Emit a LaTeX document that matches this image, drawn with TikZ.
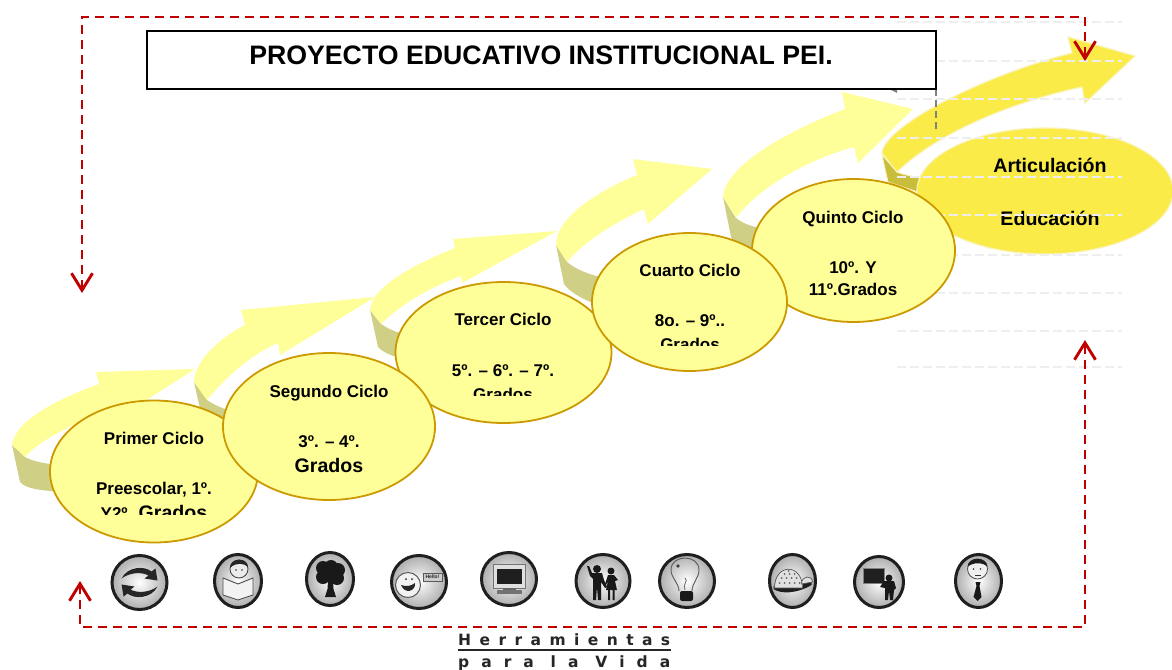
\documentclass[tikz,border=0pt]{standalone}
\usepackage{fontspec}
\setmainfont{Liberation Sans}
\newfontfamily\logofont{DejaVu Sans}
\usetikzlibrary{shapes.geometric,arrows.meta}
\definecolor{ribbon}{HTML}{FFFF99}
\definecolor{foldc}{HTML}{CFCF85}
\definecolor{ringc}{HTML}{CC9900}
\definecolor{goldc}{HTML}{FAEB48}
\definecolor{goldedge}{HTML}{FBF3B5}
\definecolor{goldfold}{HTML}{C9BE3C}
\definecolor{redc}{HTML}{C00000}
\definecolor{guide}{HTML}{EEEEEE}
\tikzset{
  x=1pt,y=-1pt,
  cycleell/.style={ellipse,draw=ringc,fill=ribbon,line width=1.8pt,inner sep=0pt,outer sep=0pt},
  lab/.style={anchor=base,inner sep=0pt,font=\bfseries\fontsize{17}{20}\selectfont},
  bigl/.style={anchor=base,inner sep=0pt,font=\bfseries\fontsize{19.6}{22}\selectfont},
  reddash/.style={draw=redc,line width=2.3pt,dash pattern=on 9pt off 6pt,
    {Straight Barb[length=17pt,width=21pt,line width=2.9pt]}-{Straight Barb[length=17pt,width=21pt,line width=2.9pt]}},
  rim/.style={draw=black!88,line width=3pt,inner color=white,outer color=black!32},
  logol/.style={anchor=base west,inner sep=0pt,font=\logofont\bfseries\fontsize{15.5}{16}\selectfont,text=black!85}
}
\newcommand{\iconbase}[2]{\shade[rim] (0,0) ellipse[x radius=#1,y radius=#2];}
\newcommand{\wordgap}{\hskip0pt plus 1.4fill\relax}
\begin{document}
\begin{tikzpicture}
\useasboundingbox (0,0) rectangle (1172,669);
\clip (0,0) rectangle (1172,669);
\fill[white] (0,0) rectangle (1172,669);

% ---- ribbons
% 1
\fill[foldc] (12,445) -- (20,482) .. controls (26,489) and (40,490) .. (60,492) -- (60,465) .. controls (45,464) and (32,461) .. (25,457) -- cycle;
\fill[ribbon] (12,445) .. controls (15,420) and (60,398) .. (99,384) -- (96,372) -- (195,369) -- (115,420) -- (112,408) .. controls (85,420) and (45,435) .. (25,457) -- cycle;
% 2
\fill[foldc] (194,382) -- (203,422) .. controls (208,432) and (215,438) .. (232,446) -- (232,412) .. controls (222,408) and (214,405) .. (207,400) -- cycle;
\fill[ribbon] (194,382) .. controls (195,358) and (225,335) .. (245,325) -- (241,310) -- (375,297) -- (280,355) -- (278,343) .. controls (250,355) and (225,378) .. (207,400) -- cycle;
% 3
\fill[foldc] (370,310) -- (378,347) .. controls (384,353) and (390,355) .. (400,358) -- (400,333) .. controls (393,331) and (387,328) .. (381,324) -- cycle;
\fill[ribbon] (370,310) .. controls (372,285) and (420,262) .. (455,248) -- (453,239) -- (557,231) -- (462,283) -- (461,276) .. controls (430,287) and (400,305) .. (381,324) -- cycle;
% 4
\fill[foldc] (556,245) -- (564,284) .. controls (570,292) and (580,298) .. (600,306) -- (600,277) .. controls (588,274) and (575,269) .. (567,262) -- cycle;
\fill[ribbon] (556,245) .. controls (556,215) and (605,188) .. (637,175) -- (633,159) -- (712,169) -- (648,224) -- (644,209) .. controls (620,220) and (585,240) .. (567,262) -- cycle;
% 5
\fill[foldc] (723,197) -- (731,237) .. controls (735,245) and (745,250) .. (760,252) -- (760,228) .. controls (750,226) and (742,223) .. (736,218) -- cycle;
\fill[ribbon] (723,197) .. controls (725,165) and (790,130) .. (845,109) -- (842,92) -- (913,109) -- (858,163) -- (854,147) .. controls (815,157) and (760,185) .. (736,218) -- cycle;
% 6
\fill[goldfold,draw=goldedge,line width=.8pt] (882,155) -- (888,182) -- (918,192) -- (920,178) .. controls (912,176) and (903,175) .. (897,172) -- cycle;
\fill[goldc,draw=goldedge,line width=1.2pt] (882,153) .. controls (885,125) and (985,75) .. (1072,53) -- (1068,37) -- (1135,56) -- (1085,103) -- (1082,87) .. controls (1020,100) and (940,130) .. (897,172) -- cycle;

% ---- right ellipse and labels
\node[ellipse,fill=goldc,draw=goldedge,line width=1.2pt,minimum width=256pt,minimum height=126pt,inner sep=0pt,outer sep=0pt] (edu) at (1045,191) {};
\node[bigl] (art) at (1050,172) {Articulación};
\node[bigl] (educ) at (1050,225) {Educación};

% ---- pale guide lines
\foreach \yy in {22,61,99,138,177,215,255,293,331,367}
  \draw[guide,line width=1.8pt,dash pattern=on 9pt off 4pt] (897,\yy) -- (1122,\yy);

% ---- title box with grey trace
\coordinate (gt) at (936,89);
\coordinate (gb) at (936,130);
\draw[black!50,line width=1.8pt,dash pattern=on 7pt off 4pt] (gt) -- (gb);
\fill[black!50] (889,89) -- (897,89) -- (897,93) -- cycle;
\node[draw=black,fill=white,line width=1.6pt,minimum width=789pt,minimum height=58pt,inner sep=0pt,outer sep=0pt] (title) at (541.5,60) {};
\node[anchor=base,inner sep=0pt,font=\bfseries\fontsize{26.7}{30}\selectfont] (titlet) at (541,64) {PROYECTO EDUCATIVO INSTITUCIONAL PEI.};

% ---- cycle ellipses
\node[cycleell,minimum width=208pt,minimum height=142pt] (c1) at (154,471.5) {};
\node[cycleell,minimum width=216pt,minimum height=141pt] (c3) at (503.5,352.5) {};
\node[cycleell,minimum width=212pt,minimum height=147pt] (c2) at (329,426.5) {};
\node[cycleell,minimum width=203pt,minimum height=143pt] (c5) at (853.5,250.5) {};
\node[cycleell,minimum width=195pt,minimum height=138pt] (c4) at (689.5,302) {};

\node[lab] (t1a) at (154,444) {Primer Ciclo};
\node[lab] (t1b) at (154,494) {Preescolar, 1º.};
\begin{scope}
  \clip (60,490) rectangle (250,514.5);
  \node[lab] (t1c) at (154,519) {Y2º. {\fontsize{19.6}{22}\selectfont Grados}};
\end{scope}
\node[lab] (t2a) at (329,397) {Segundo Ciclo};
\node[lab] (t2b) at (329,447) {3º. – 4º.};
\node[bigl] (t2c) at (329,472) {Grados};
\node[lab] (t3a) at (503,325) {Tercer Ciclo};
\node[lab] (t3b) at (503,376) {5º. – 6º. – 7º.};
\begin{scope}
  \clip (400,380) rectangle (600,395.5);
  \node[lab] (t3c) at (503,400.5) {Grados};
\end{scope}
\node[lab] (t4a) at (690,276) {Cuarto Ciclo};
\node[lab] (t4b) at (690,326) {8o. – 9º..};
\begin{scope}
  \clip (600,330) rectangle (780,345);
  \node[lab] (t4c) at (690,350) {Grados};
\end{scope}
\node[lab] (t5a) at (853,223) {Quinto Ciclo};
\node[lab] (t5b) at (853,273) {10º. Y};
\node[lab] (t5c) at (853,295) {11º.Grados};

% ---- red dashed frame
\coordinate (ra) at (82,293);
\coordinate (rb) at (82,17);
\coordinate (rc) at (1085,17);
\coordinate (rd) at (1085,61);
\coordinate (re) at (80,581);
\coordinate (rf) at (80,627);
\coordinate (rg) at (1085,627);
\coordinate (rh) at (1085,340);
\draw[reddash] (ra) -- (rb) -- (rc) -- (rd);
\draw[reddash] (re) -- (rf) -- (rg) -- (rh);

% ---- icons
% 1 cycle
\begin{scope}[shift={(139.5,582.5)}]
  \iconbase{27.5}{27}
  \foreach \rr in {0,180}
    \fill[black!85,rotate=\rr] (-18,-4) .. controls (-12,-16) and (5,-17) .. (12,-11) -- (16,-14) -- (18,-2) -- (5,-4) -- (9,-7) .. controls (2,-11) and (-10,-10) .. (-18,-4) -- cycle;
\end{scope}
% 2 reader
\begin{scope}[shift={(238,581)}]
  \iconbase{23.5}{26.5}
  \fill[black!8,draw=black!75,line width=.8pt] (1,-12) circle[radius=9];
  \fill[black!85] (-8,-13) .. controls (-8,-24) and (10,-24) .. (10,-14) .. controls (6,-18) and (-2,-19) .. (-8,-13);
  \fill[black!80] (-2,-11) circle[radius=.9] (4,-11) circle[radius=.9];
  \fill[black!5,draw=black!70,line width=.9pt] (-15,-3) -- (0,3) -- (15,-3) -- (15,14) -- (0,19) -- (-15,14) -- cycle;
\end{scope}
% 3 tree
\begin{scope}[shift={(330,579)}]
  \iconbase{23.5}{26.5}
  \fill[black!90] (-7,-11) circle[radius=7] (1,-12) circle[radius=7] (8,-9) circle[radius=7]
     (-7,-2) circle[radius=7] (7,-1) circle[radius=7] (0,-5) circle[radius=8];
  \fill[black!90] (-2,2) -- (3,2) -- (3.5,10) -- (6,18) -- (-5,18) -- (-2.5,10) -- cycle;
\end{scope}
% 4 hello
\begin{scope}[shift={(419,582)}]
  \iconbase{27.5}{26.5}
  \fill[black!5,draw=black!65,line width=1pt] (-11,3) circle[radius=12.5];
  \fill[black!85] (-13,-3) circle[radius=1] (-7,-3) circle[radius=1];
  \fill[black!85] (-18,3) .. controls (-12,5) and (-8,4) .. (-4,1) .. controls (-3,9) and (-14,13) .. (-18,3);
  \fill[black!20,draw=black!65,line width=.7pt] (4,-9) rectangle (23,-1);
  \node[inner sep=0pt,font=\bfseries\fontsize{5}{5}\selectfont,text=black!85] (hello) at (13.5,-5) {Hello!};
\end{scope}
% 5 monitor
\begin{scope}[shift={(509,579)}]
  \iconbase{27.5}{26.5}
  \fill[black!12,draw=black!55,line width=.8pt] (-16,-15) rectangle (16,9);
  \fill[black!88] (-12,-10) rectangle (13,5);
  \fill[black!60] (-6,9) rectangle (7,11);
  \fill[black!55] (-12,11) rectangle (13,15);
\end{scope}
% 6 couple
\begin{scope}[shift={(603,581)}]
  \iconbase{27}{26.5}
  \fill[black!90] (-6,-12) circle[radius=4];
  \fill[black!90] (-16,-15) -- (-14,-15) -- (-11,-8) -- (-1,-8) -- (1,-1) -- (4,6) -- (2,7) -- (-2,1) -- (-2,19) -- (-5,19) -- (-6,6) -- (-7,19) -- (-10,19) -- (-10,-2) -- (-13,-5) -- cycle;
  \fill[black!90] (8,-10) circle[radius=3.5];
  \fill[black!90] (5,-6) -- (11,-6) -- (15,-1) -- (12,0) -- (14,9) -- (3,9) -- (5,0) -- (3,4) -- (2,3) -- cycle;
  \fill[black!90] (5,9) rectangle (7,19) (9.5,9) rectangle (11.5,19);
\end{scope}
% 7 bulb
\begin{scope}[shift={(687,581)}]
  \iconbase{27.5}{26.5}
  \draw[black!65,line width=.9pt] (-8,10) .. controls (-8,2) and (-16,-3) .. (-16,-11) .. controls (-16,-27) and (12,-27) .. (12,-11) .. controls (12,-3) and (5,2) .. (5,10);
  \fill[black!75] (-9,-15) circle[radius=1.8];
  \draw[black!55,line width=.9pt] (-2,-3) .. controls (2,0) and (-5,3) .. (-2,9);
  \fill[black!90,rounded corners=2pt] (-7,10) rectangle (6,20);
\end{scope}
% 8 dome
\begin{scope}[shift={(792.5,581)}]
  \iconbase{23}{26.5}
  \fill[black!88] (-19,8) .. controls (-12,13) and (4,13) .. (19,4) -- (19,1) -- (-19,5) -- cycle;
  \fill[black!12,draw=black!65,line width=.7pt] (-18,7) .. controls (-18,-18) and (10,-18) .. (10,7) -- cycle;
  \fill[black!12,draw=black!65,line width=.7pt] (9,3) .. controls (9,-6) and (20,-6) .. (20,1) -- cycle;
  \foreach \px/\py in {-13/2,-8/2,-3/2,2/2,7/2,-11/-3,-6/-3,-1/-3,4/-3,-8/-7,-3/-7,2/-7,-4/-10}
    \fill[black!60] (\px,\py) circle[radius=1];
\end{scope}
% 9 teacher
\begin{scope}[shift={(879,582)}]
  \iconbase{24.5}{25.5}
  \fill[black!88,draw=black!50,line width=1pt] (-16,-14) rectangle (5,1);
  \fill[black!90] (10,-4) circle[radius=3.5];
  \fill[black!90] (5,-1) -- (15,-1) -- (17,6) -- (15,8) -- (14,18) -- (11,18) -- (10,9) -- (9,18) -- (6,18) -- (6,6) -- (1,5) -- cycle;
\end{scope}
% 10 man with tie
\begin{scope}[shift={(978.5,581)}]
  \iconbase{23}{26.5}
  \fill[black!6,draw=black!70,line width=.8pt] (-1,-12) circle[radius=10];
  \fill[black!88] (-11,-14) .. controls (-11,-25) and (9,-25) .. (9,-14) .. controls (5,-19) and (-6,-19) .. (-11,-14);
  \fill[black!80] (-5,-12) circle[radius=.9] (2,-12) circle[radius=.9];
  \fill[black!80] (-4,-6) rectangle (2,-5);
  \fill[black!90] (-3,1) -- (2,1) -- (1,5) -- (3,16) -- (-1,20) -- (-5,16) -- (-2,5) -- cycle;
\end{scope}

% ---- logo
\coordinate (la) at (458,650);
\coordinate (lb) at (671,650);
\draw[black!85,line width=1.3pt] (la) -- (lb);
\node[logol] (herr) at (458,645) {\makebox[212pt][s]{H\hfill e\hfill r\hfill r\hfill a\hfill m\hfill i\hfill e\hfill n\hfill t\hfill a\hfill s}};
\node[logol] (vida) at (458,667) {\makebox[212pt][s]{p\hfill a\hfill r\hfill a\wordgap l\hfill a\wordgap V\hfill i\hfill d\hfill a}};
\end{tikzpicture}
\end{document}
